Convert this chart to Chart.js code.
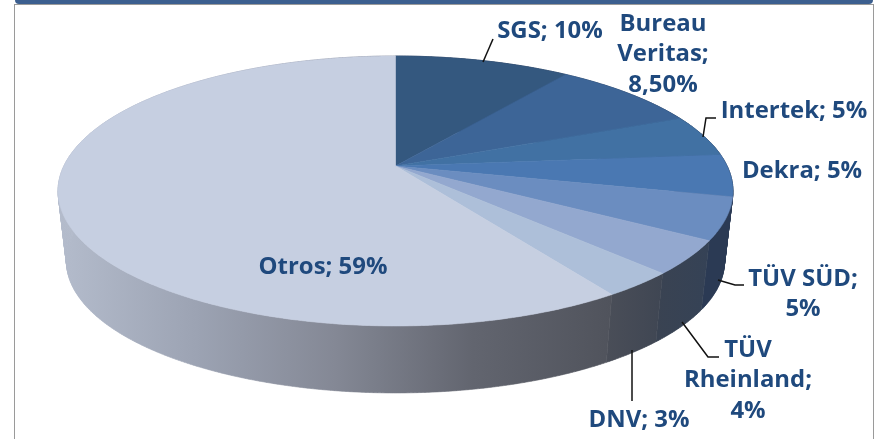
<!DOCTYPE html>
<html>
<head>
<meta charset="utf-8">
<script src="https://cdn.jsdelivr.net/npm/chart.js@4"></script>
<style>
	html, body { margin: 0; background: #fff; overflow: hidden; }
	#wrap { position: relative; width: 879px; height: 439px; }
	#topBar { position: absolute; left: 15px; top: 0; width: 858px; height: 4px; background: #3c5f8f; border-radius: 0 0 6px 6px; }
	#frame { position: absolute; left: 14px; top: 4px; width: 858px; height: 440px; border: 1.5px solid #9a9a9a; }
	canvas { position: absolute; left: 0; top: 0; }
</style>
</head>
<body>
<div id="wrap">
	<div id="frame"></div>
	<div id="topBar"></div>
	<canvas id="pie" width="879" height="439"></canvas>
</div>
<script>
const categories = ["SGS", "Bureau Veritas", "Intertek", "Dekra", "TÜV SÜD", "TÜV Rheinland", "DNV", "Otros"];
const values = [10, 8.5, 5, 5, 5, 4, 3, 59];
const topColors = ["#34587f", "#3d6597", "#4171a3", "#4a78b2", "#6b8dc0", "#93a8cf", "#adbfd9", "#c6cfe1"];
const wallColors = [
	["#2a3a55"], ["#2a3a55"], ["#2a3a55"], ["#2a3a55"],
	["#2b3a54", "#2b3a54"],
	["#3a4352", "#354256"],
	["#4a4e58", "#3f4653"],
	["#b4bccc", "#9ca3b3", "#848895", "#62656f", "#50535c"]
];

// line breaks and where each label sits
const labelLines = [
	["SGS; 10%"],
	["Bureau", "Veritas;", "8,50%"],
	["Intertek; 5%"],
	["Dekra; 5%"],
	["TÜV SÜD;", "5%"],
	["TÜV", "Rheinland;", "4%"],
	["DNV; 3%"],
	["Otros; 59%"]
];
const labelSpots = [
	{ x: 550, y: 31 },
	{ x: 663, y: 24 },
	{ x: 794, y: 111 },
	{ x: 802, y: 171 },
	{ x: 803, y: 279 },
	{ x: 748, y: 350 },
	{ x: 639, y: 420 },
	{ x: 323, y: 267 }
];
const leaders = [
	[[483, 62], [493, 39]],
	null,
	[[703, 137], [706, 118], [716, 118]],
	null,
	[[718, 280], [735, 285], [744, 285]],
	[[682, 322], [708, 357], [719, 357]],
	[[632, 350], [632, 401]],
	null
];

/* tilted disc: the apex sits above the middle of the ellipse */
const tilt = -0.185;
const depthScale = 1.185;
const widthScale = 3.015;
const wallDrop = 71;
const wallShrink = 0.975;
const textStretch = 1.04;

function project(arc, angle, shrink, drop) {
	const u = Math.cos(angle);
	const v = Math.sin(angle);
	const w = 1 + tilt * v;
	return {
		x: arc.x + shrink * arc.outerRadius * widthScale * u / w,
		y: arc.y + drop + shrink * arc.outerRadius * depthScale * v / w
	};
}

function edge(arc, shrink, drop) {
	const points = [];
	const steps = Math.ceil((arc.endAngle - arc.startAngle) / 0.01);
	for (let i = 0; i <= steps; i++) {
		const angle = arc.startAngle + (arc.endAngle - arc.startAngle) * i / steps;
		points.push(project(arc, angle, shrink, drop));
	}
	return points;
}

function fillShapes(ctx, shapes, color) {
	ctx.beginPath();
	shapes.forEach((points) => {
		points.forEach((p, i) => (i ? ctx.lineTo(p.x, p.y) : ctx.moveTo(p.x, p.y)));
		ctx.closePath();
	});
	ctx.fillStyle = color;
	ctx.strokeStyle = color;
	ctx.lineWidth = 0.6;
	ctx.fill();
	ctx.stroke();
}

function wallPaint(ctx, points, colors) {
	if (colors.length === 1) return colors[0];
	const xs = points.map((p) => p.x);
	const gradient = ctx.createLinearGradient(Math.min(...xs), 0, Math.max(...xs), 0);
	colors.forEach((c, i) => gradient.addColorStop(i / (colors.length - 1), c));
	return gradient;
}

const tiltedPie = {
	id: "tiltedPie",
	beforeDatasetsDraw(chart) {
		const ctx = chart.ctx;
		const arcs = chart.getDatasetMeta(0).data;
		arcs.forEach((arc, i) => {
			const top = edge(arc, 1, 0);
			const bottom = edge(arc, wallShrink, wallDrop);
			const paint = wallPaint(ctx, top.concat(bottom), wallColors[i]);
			/* one path of many strips, so the sides of the drum are filled too */
			const strips = [];
			for (let k = 0; k < top.length - 1; k++) {
				strips.push([top[k], top[k + 1], bottom[k + 1], bottom[k]]);
			}
			fillShapes(ctx, strips, paint);
		});
		arcs.forEach((arc, i) => {
			fillShapes(ctx, [[{ x: arc.x, y: arc.y }].concat(edge(arc, 1, 0))], topColors[i]);
		});
		return false;
	},
	afterDraw(chart) {
		const ctx = chart.ctx;
		ctx.save();
		ctx.strokeStyle = "#111";
		ctx.lineWidth = 1.5;
		leaders.forEach((line) => {
			if (!line) return;
			ctx.beginPath();
			line.forEach((p, i) => (i ? ctx.lineTo(p[0], p[1]) : ctx.moveTo(p[0], p[1])));
			ctx.stroke();
		});
		ctx.font = "bold 23px 'Open Sans'";
		ctx.fillStyle = "#1f497d";
		ctx.textAlign = "center";
		ctx.textBaseline = "middle";
		labelLines.forEach((lines, i) => {
			lines.forEach((text, j) => {
				ctx.save();
				ctx.translate(labelSpots[i].x, labelSpots[i].y + j * 30.5);
				ctx.scale(textStretch, 1);
				ctx.fillText(text, 0, 0);
				ctx.restore();
			});
		});
		ctx.restore();
	}
};

new Chart(document.getElementById("pie"), {
	type: "pie",
	data: {
		labels: categories,
		datasets: [{ data: values, backgroundColor: topColors, borderWidth: 0 }]
	},
	options: {
		responsive: false,
		animation: false,
		layout: { padding: { left: 285.5, right: 373.5, top: 56, bottom: 163 } },
		plugins: {
			legend: { display: false },
			tooltip: { enabled: false }
		}
	},
	plugins: [tiltedPie]
});
</script>
</body>
</html>
